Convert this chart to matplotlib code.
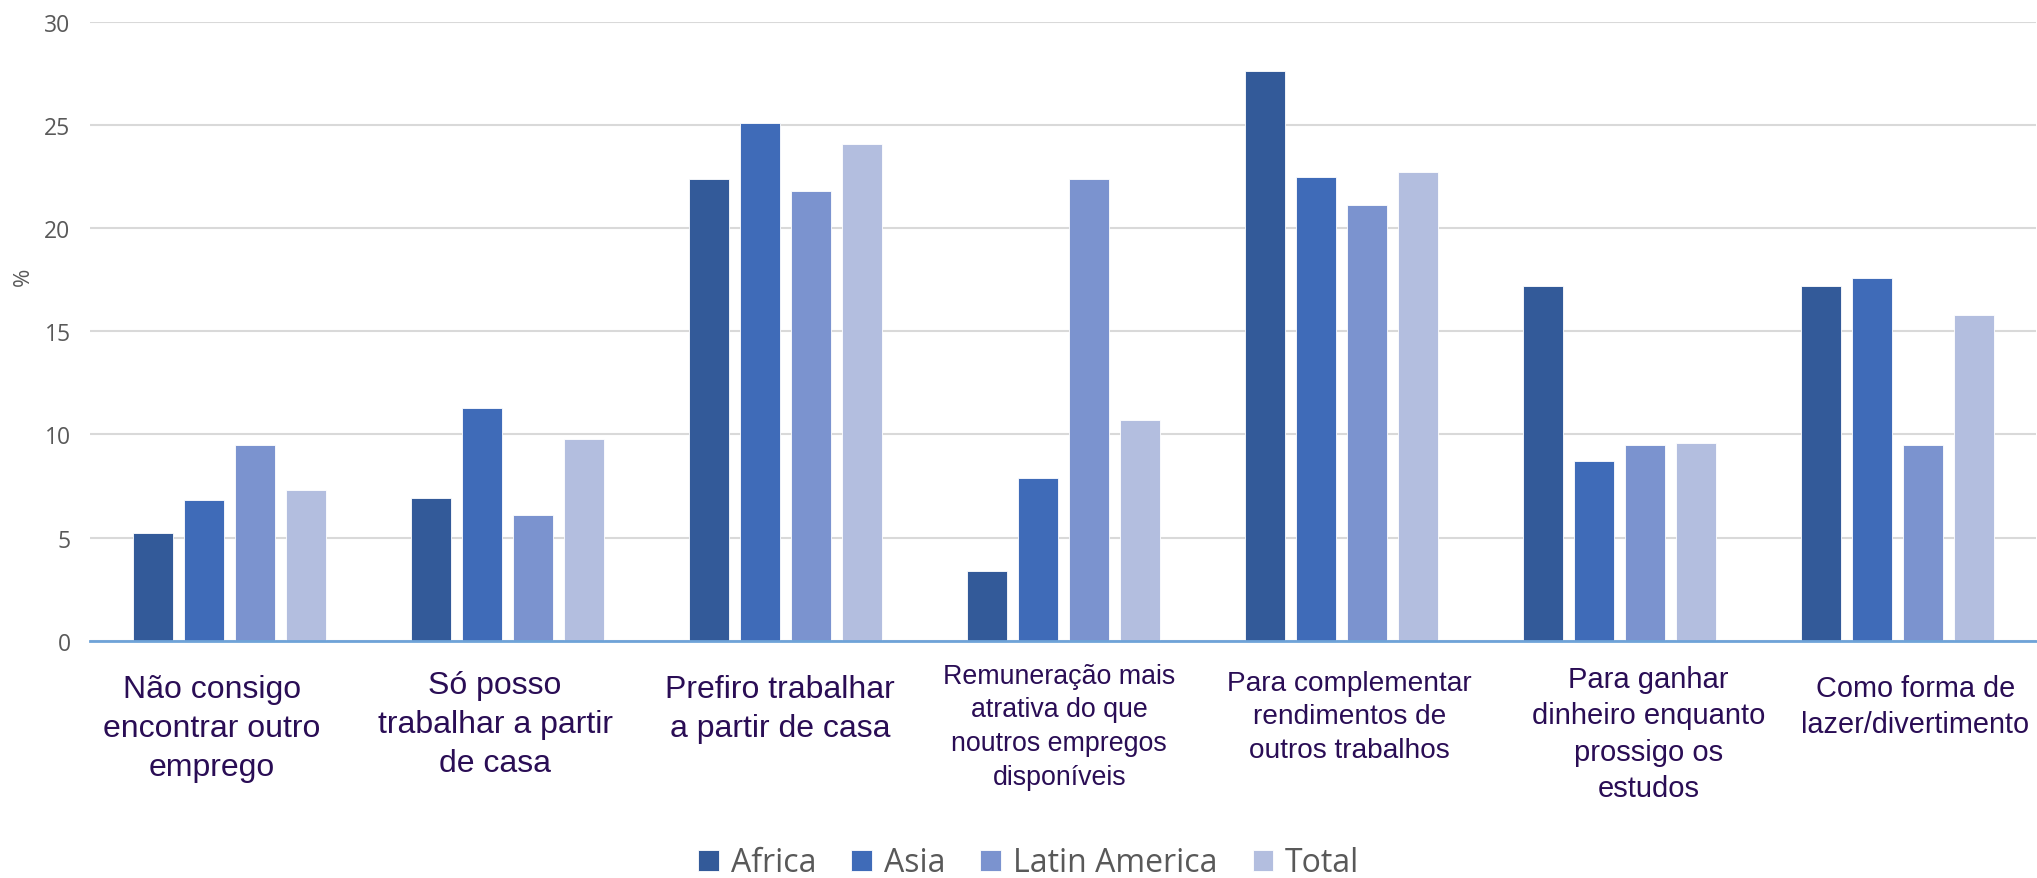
import matplotlib.pyplot as plt
import numpy as np

categories = [
    "Não consigo\nencontrar outro\nemprego",
    "Só posso\ntrabalhar a partir\nde casa",
    "Prefiro trabalhar\na partir de casa",
    "Remuneração mais\natrativa do que\nnoutros empregos\ndisponíveis",
    "Para complementar\nrendimentos de\noutros trabalhos",
    "Para ganhar\ndinheiro enquanto\nprossigo os\nestudos",
    "Como forma de\nlazer/divertimento",
]
africa = [5.2, 6.9, 22.4, 3.4, 27.6, 17.2, 17.2]
asia = [6.8, 11.3, 25.1, 7.9, 22.5, 8.7, 17.6]
latin_america = [9.5, 6.1, 21.8, 22.4, 21.1, 9.5, 9.5]
total = [7.3, 9.8, 24.1, 10.7, 22.7, 9.6, 15.8]
series_names = ["Africa", "Asia", "Latin America", "Total"]

colors = ["#335A99", "#3F6BB8", "#7B93CF", "#B3BEDF"]
# label font sizes and small nudges (in pixels, positive = right / down)
label_sizes = [23, 23, 23, 19.3, 20.2, 21, 20.8]
label_dx_px = [-17, -12, -5, -4, 8, 29, 18]
label_dy_px = [3, -1, 3, -8, -1, -6, 3]

fig = plt.figure(figsize=(20.37, 8.79), dpi=100)
ax = fig.add_axes([0.0442, 0.270, 0.9555, 0.704])

x = np.arange(len(categories))
pitch = 0.1835
width = 0.144
for i, (name, vals) in enumerate(zip(series_names, [africa, asia, latin_america, total])):
    ax.bar(x + (i - 1.5) * pitch, vals, width, color=colors[i], label=name,
           edgecolor="white", linewidth=0.6, zorder=3)

ax.set_xlim(-0.5, len(categories) - 0.5)
ax.set_ylim(0, 30)
ax.set_yticks([0, 5, 10, 15, 20, 25, 30])
ax.yaxis.grid(True, color="#D9D9D9", linewidth=1.5, zorder=0)
ax.set_axisbelow(True)
for s in ["top", "right", "left"]:
    ax.spines[s].set_visible(False)
ax.spines["bottom"].set_color("#6FA3D8")
ax.spines["bottom"].set_linewidth(2)
ax.spines["bottom"].set_zorder(4)

ax.tick_params(axis="y", length=0, pad=14, labelsize=16.5, labelcolor="#595959")
for t in ax.get_yticklabels():
    t.set_family(["Open Sans", "DejaVu Sans"])
ax.set_xticks(x)
ax.set_xticklabels([])
ax.tick_params(axis="x", length=0)

px_per_cat = 278.0
for xi, lab, fs, dx, dy in zip(x, categories, label_sizes, label_dx_px, label_dy_px):
    ax.text(xi + dx / px_per_cat, -(30 + dy) / 619, lab, transform=ax.get_xaxis_transform(),
            ha="center", va="top", multialignment="center", fontsize=fs,
            color="#2A0D55", family=["Liberation Sans", "DejaVu Sans"],
            linespacing=1.39)

fig.text(23 / 2037, 1 - 277 / 879, "%", rotation=90, ha="center", va="center",
         fontsize=16, color="#595959", family=["Open Sans", "DejaVu Sans"])

fig.legend(loc="center", bbox_to_anchor=(0.505, 1 - 864 / 879), ncol=4, frameon=False,
           prop={"family": ["Open Sans", "DejaVu Sans"], "size": 23},
           labelcolor="#595959", handlelength=0.65, handleheight=0.65,
           handletextpad=0.37, columnspacing=1.1, borderpad=0)

fig.savefig("out.png", dpi=100)
